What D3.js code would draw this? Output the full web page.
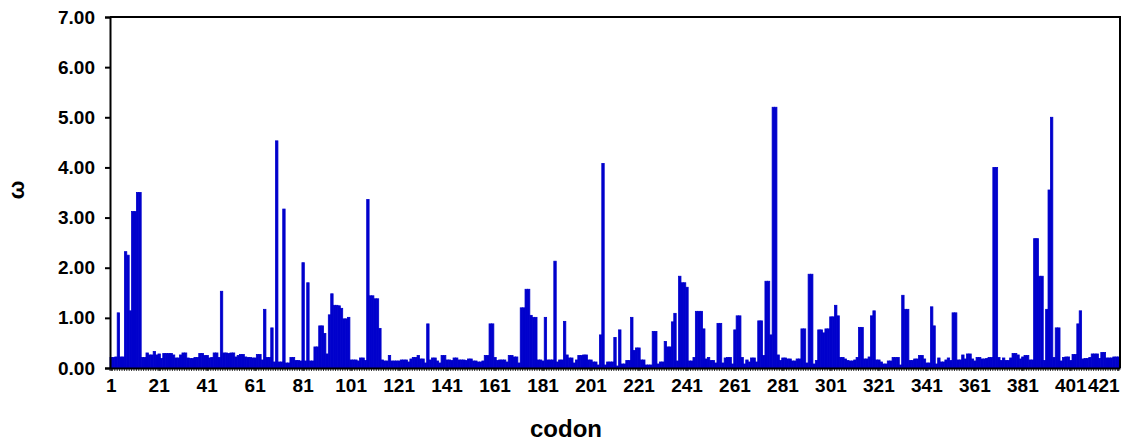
<html>
<head>
  <title>omega per codon</title>
  <meta charset="utf-8" />
<script src="https://d3js.org/d3.v7.min.js"></script>
</head>
<style>
  body { margin: 0; background: #fff; }
  svg { font-family: "Liberation Sans", Arial, sans-serif; font-weight: bold; }
</style>
<body>
<svg class="main" width="1141" height="446"></svg>
<script>

// omega value for each codon
var omega = [
  0.21, 0.21, 0.22, 1.10, 0.22, 0.22, 2.32, 2.25, 1.14, 3.12,
  3.12, 3.50, 3.50, 0.21, 0.21, 0.30, 0.26, 0.26, 0.33, 0.26,
  0.28, 0.19, 0.29, 0.29, 0.29, 0.29, 0.26, 0.20, 0.20, 0.26,
  0.30, 0.30, 0.20, 0.19, 0.19, 0.21, 0.21, 0.29, 0.29, 0.25,
  0.25, 0.20, 0.21, 0.30, 0.30, 0.21, 1.53, 0.30, 0.30, 0.29,
  0.30, 0.30, 0.22, 0.25, 0.27, 0.27, 0.22, 0.21, 0.21, 0.20,
  0.20, 0.27, 0.27, 0.16, 1.17, 0.21, 0.21, 0.80, 0.12, 4.53,
  0.12, 0.12, 3.17, 0.10, 0.10, 0.21, 0.21, 0.15, 0.15, 0.14,
  2.10, 0.14, 1.70, 0.14, 0.14, 0.42, 0.42, 0.84, 0.84, 0.69,
  0.28, 1.06, 1.48, 1.25, 1.25, 1.24, 1.19, 0.98, 0.98, 1.01,
  0.16, 0.16, 0.16, 0.14, 0.20, 0.20, 0.15, 3.36, 1.44, 1.44,
  1.38, 1.38, 0.79, 0.16, 0.14, 0.14, 0.25, 0.14, 0.14, 0.14,
  0.14, 0.16, 0.16, 0.16, 0.12, 0.18, 0.21, 0.21, 0.25, 0.18,
  0.18, 0.10, 0.88, 0.16, 0.20, 0.20, 0.14, 0.10, 0.25, 0.25,
  0.16, 0.16, 0.15, 0.20, 0.20, 0.16, 0.16, 0.16, 0.15, 0.18,
  0.18, 0.14, 0.14, 0.12, 0.12, 0.14, 0.25, 0.25, 0.88, 0.88,
  0.21, 0.15, 0.16, 0.16, 0.16, 0.12, 0.25, 0.25, 0.22, 0.22,
  0.10, 1.20, 1.20, 1.57, 1.57, 1.05, 1.01, 1.01, 0.16, 0.16,
  0.14, 1.01, 0.16, 0.16, 0.16, 2.13, 0.12, 0.16, 0.16, 0.93,
  0.26, 0.20, 0.20, 0.10, 0.16, 0.25, 0.25, 0.26, 0.26, 0.16,
  0.16, 0.12, 0.12, 0.06, 0.66, 4.08, 0.06, 0.12, 0.12, 0.12,
  0.61, 0.04, 0.76, 0.08, 0.08, 0.15, 0.15, 1.01, 0.35, 0.40,
  0.40, 0.16, 0.16, 0.06, 0.06, 0.06, 0.73, 0.73, 0.08, 0.12,
  0.12, 0.53, 0.42, 0.42, 0.92, 1.09, 0.14, 1.83, 1.70, 1.70,
  1.61, 0.14, 0.14, 0.21, 1.13, 1.13, 1.13, 0.78, 0.18, 0.21,
  0.15, 0.15, 0.10, 0.89, 0.89, 0.10, 0.20, 0.21, 0.21, 0.08,
  0.76, 1.04, 1.04, 0.21, 0.08, 0.16, 0.12, 0.20, 0.20, 0.12,
  0.94, 0.94, 0.25, 1.73, 1.73, 0.66, 5.20, 5.20, 0.26, 0.15,
  0.20, 0.20, 0.18, 0.18, 0.14, 0.14, 0.18, 0.18, 0.78, 0.78,
  0.10, 1.87, 1.87, 0.08, 0.15, 0.76, 0.76, 0.70, 0.78, 0.78,
  1.02, 1.02, 1.25, 1.04, 0.21, 0.21, 0.18, 0.15, 0.14, 0.14,
  0.16, 0.21, 0.81, 0.81, 0.18, 0.18, 0.22, 1.04, 1.14, 0.16,
  0.16, 0.12, 0.08, 0.08, 0.14, 0.14, 0.21, 0.21, 0.21, 0.06,
  1.45, 1.17, 1.17, 0.15, 0.15, 0.18, 0.18, 0.25, 0.25, 0.18,
  0.10, 0.10, 1.22, 0.84, 0.08, 0.20, 0.12, 0.12, 0.16, 0.20,
  0.15, 1.10, 1.10, 0.16, 0.16, 0.26, 0.18, 0.28, 0.28, 0.18,
  0.14, 0.21, 0.21, 0.18, 0.18, 0.19, 0.21, 0.21, 4.00, 4.00,
  0.21, 0.15, 0.20, 0.15, 0.15, 0.20, 0.29, 0.29, 0.26, 0.18,
  0.22, 0.25, 0.25, 0.16, 0.16, 2.58, 2.58, 1.83, 1.83, 0.15,
  1.17, 3.55, 5.00, 0.21, 0.80, 0.80, 0.14, 0.21, 0.22, 0.22,
  0.15, 0.27, 0.27, 0.88, 1.14, 0.18, 0.19, 0.19, 0.21, 0.28,
  0.28, 0.28, 0.19, 0.31, 0.31, 0.20, 0.20, 0.20, 0.22, 0.22,
  0.22
]

var codons = omega.map(function (d, i) { return i + 1 })
var codonLabels = [1, 21, 41, 61, 81, 101, 121, 141, 161, 181, 201,
                   221, 241, 261, 281, 301, 321, 341, 361, 381, 401, 421]
var yTicks = [0, 1, 2, 3, 4, 5, 6, 7]

var plotLeft = 110, plotRight = 1120, plotTop = 17, plotBottom = 368

var x = d3.scaleBand().domain(codons).range([plotLeft, plotRight]).padding(0)
var y = d3.scaleLinear().domain([0, 7]).range([plotBottom, plotTop])

var svg = d3.select("svg.main")

// bars
svg.append("g")
  .selectAll("rect")
  .data(omega)
  .enter()
  .append("rect")
  .attr("x", function (d, i) { return x(codons[i]) })
  .attr("width", x.bandwidth())
  .attr("y", function (d) { return y(d) })
  .attr("height", function (d) { return plotBottom - y(d) })
  .style("fill", "#0000cc")
  .style("stroke", "#0000cc")
  .style("stroke-width", 0.8)

// frame (top and right)
svg.append("path")
  .attr("d", "M" + plotLeft + "," + plotTop + "H" + plotRight + "V" + plotBottom)
  .style("fill", "none")
  .style("stroke", "#000")
  .style("stroke-width", 2)

// small tick marks between every codon
svg.append("g")
  .selectAll("line")
  .data(codons)
  .enter()
  .append("line")
  .attr("x1", function (d) { return x(d) })
  .attr("x2", function (d) { return x(d) })
  .attr("y1", plotBottom)
  .attr("y2", plotBottom + 3)
  .style("stroke", "#000")
  .style("stroke-width", 0.8)

// y axis
var yAxis = svg.append("g")
  .attr("transform", "translate(" + plotLeft + ",0)")
  .call(d3.axisLeft(y).tickValues(yTicks).tickFormat(d3.format(".2f")).tickSize(5).tickPadding(10))
yAxis.select(".domain").style("stroke-width", 2)
yAxis.selectAll(".tick line").style("stroke-width", 2)
yAxis.selectAll("text").style("font-size", "19px").style("font-weight", "bold")
  .attr("font-family", null).style("fill", "#000")

// x axis
var xAxis = svg.append("g")
  .attr("transform", "translate(0," + plotBottom + ")")
  .call(d3.axisBottom(x).tickValues(codonLabels).tickSize(3).tickPadding(8).tickSizeOuter(0))
xAxis.select(".domain").style("stroke-width", 2)
xAxis.selectAll(".tick line").style("stroke-width", 1)
xAxis.selectAll("text").style("font-size", "19px").style("font-weight", "bold")
  .attr("font-family", null).style("fill", "#000")
// the last label sits a little to the left of its codon, as in the original
xAxis.selectAll(".tick text")
  .filter(function (d) { return d === 421 })
  .attr("dx", -15)

// axis titles
svg.append("text")
  .attr("x", 566).attr("y", 437)
  .attr("text-anchor", "middle")
  .style("font-size", "24px")
  .text("codon")

svg.append("text")
  .attr("transform", "translate(24,190) rotate(-90)")
  .attr("text-anchor", "middle")
  .style("font-size", "22px")
  .text("ω")

</script>
</body>
</html>
